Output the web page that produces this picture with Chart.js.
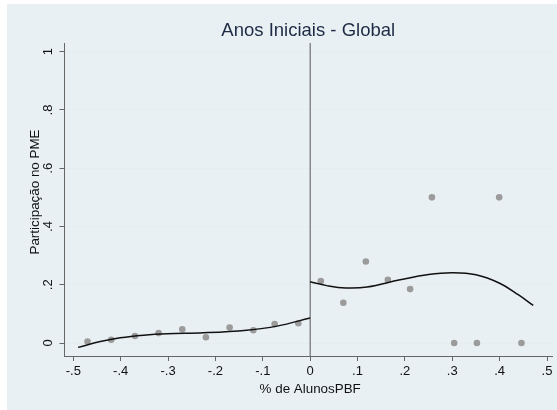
<!DOCTYPE html>
<html>
<head>
<meta charset="utf-8">
<script src="https://cdn.jsdelivr.net/npm/chart.js@4/dist/chart.umd.min.js"></script>
<style>
  html, body { margin: 0; padding: 0; background: #ffffff; }
  #wrap { position: absolute; left: 7px; top: 4px; width: 550px; height: 406px; background: #e9f0f3; }
  canvas { display: block; }
</style>
</head>
<body>
<div id="wrap"><canvas id="c" width="550" height="406"></canvas></div>
<script>
// Binned means of participation by share of PBF students
const binX = [-0.47, -0.42, -0.37, -0.32, -0.27, -0.22, -0.17, -0.12, -0.075, -0.025,
              0.0225, 0.07, 0.1175, 0.164, 0.211, 0.257, 0.304, 0.352, 0.399, 0.446];
const binY = [0.005, 0.011, 0.024, 0.034, 0.047, 0.020, 0.053, 0.044, 0.065, 0.068,
              0.213, 0.138, 0.280, 0.217, 0.185, 0.500, 0.000, 0.000, 0.500, 0.000];

// Polynomial fit, left of the cutoff
const fitLeftX = [-0.49, -0.443, -0.401, -0.352, -0.302, -0.225, -0.134, -0.07, 0];
const fitLeftY = [-0.015, 0.005, 0.018, 0.027, 0.032, 0.035, 0.044, 0.058, 0.086];

// Polynomial fit, right of the cutoff
const fitRightX = [0, 0.035, 0.075, 0.12, 0.19, 0.25, 0.30, 0.35, 0.40, 0.44, 0.471];
const fitRightY = [0.21, 0.197, 0.189, 0.192, 0.217, 0.235, 0.241, 0.234, 0.205, 0.165, 0.129];

const xTicks = [-0.5, -0.4, -0.3, -0.2, -0.1, 0, 0.1, 0.2, 0.3, 0.4, 0.5];
const xTickLabels = ['-.5', '-.4', '-.3', '-.2', '-.1', '0', '.1', '.2', '.3', '.4', '.5'];
const yTicks = [0, 0.2, 0.4, 0.6, 0.8, 1];
const yTickLabels = ['0', '.2', '.4', '.6', '.8', '1'];

const titleText = 'Anos Iniciais - Global';
const xTitle = '% de AlunosPBF';
const yTitle = 'Participação no PME';

const X_MIN = -0.5186, X_MAX = 0.5105;
const Y_MIN = -0.0446, Y_MAX = 1.03;
const FONT = '"Liberation Sans", Arial, Helvetica, sans-serif';

const pts = (xs, ys) => xs.map((x, i) => ({ x: x, y: ys[i] }));

const textPlugin = {
  id: 'stataText',
  afterDraw(chart) {
    const ctx = chart.ctx;
    const ys = chart.scales.y;
    const area = chart.chartArea;
    ctx.save();
    // title
    ctx.fillStyle = '#1d2a45';
    ctx.font = '18.5px ' + FONT;
    ctx.textAlign = 'center';
    ctx.textBaseline = 'middle';
    ctx.fillText(titleText, (area.left + area.right) / 2, 27);
    // x axis title
    ctx.fillStyle = '#111';
    ctx.font = '13.4px ' + FONT;
    ctx.fillText(xTitle, chart.scales.x.getPixelForValue(0), 385);
    // y tick labels, rotated
    ctx.font = '13px ' + FONT;
    yTicks.forEach((v, i) => {
      ctx.save();
      ctx.translate(41, ys.getPixelForValue(v));
      ctx.rotate(-Math.PI / 2);
      ctx.fillText(yTickLabels[i], 0, 0);
      ctx.restore();
    });
    // y axis title
    ctx.font = '13.4px ' + FONT;
    ctx.save();
    ctx.translate(28, 188);
    ctx.rotate(-Math.PI / 2);
    ctx.fillText(yTitle, 0, 0);
    ctx.restore();
    ctx.restore();
  }
};

new Chart(document.getElementById('c'), {
  type: 'scatter',
  data: {
    datasets: [
      {
        label: 'cutoff',
        type: 'line',
        data: [{ x: 0, y: Y_MIN }, { x: 0, y: Y_MAX }],
        borderColor: '#555',
        borderWidth: 1,
        pointRadius: 0,
        order: 3
      },
      {
        label: 'bins',
        data: pts(binX, binY),
        backgroundColor: '#9b9b9b',
        borderWidth: 0,
        pointRadius: 3.3,
        order: 2
      },
      {
        label: 'fitLeft',
        type: 'line',
        data: pts(fitLeftX, fitLeftY),
        borderColor: '#111',
        borderWidth: 1.5,
        pointRadius: 0,
        tension: 0.4,
        order: 1
      },
      {
        label: 'fitRight',
        type: 'line',
        data: pts(fitRightX, fitRightY),
        borderColor: '#111',
        borderWidth: 1.5,
        pointRadius: 0,
        tension: 0.4,
        order: 1
      }
    ]
  },
  options: {
    responsive: false,
    animation: false,
    layout: { padding: { top: 39, right: 5, left: 0, bottom: 0 } },
    plugins: { legend: { display: false }, tooltip: { enabled: false }, title: { display: false } },
    scales: {
      x: {
        type: 'linear',
        min: X_MIN, max: X_MAX,
        afterBuildTicks: s => { s.ticks = xTicks.map(v => ({ value: v })); },
        afterFit: s => { s.height = 54; },
        grid: { drawOnChartArea: false, drawTicks: true, tickLength: 5, tickColor: '#666', lineWidth: 1 },
        border: { display: true, color: '#666', width: 1 },
        ticks: {
          padding: 3,
          color: '#111',
          font: { family: FONT, size: 13 },
          maxRotation: 0, minRotation: 0,
          callback: (v) => { const i = xTicks.findIndex(t => Math.abs(t - v) < 1e-9); return i >= 0 ? xTickLabels[i] : ''; }
        }
      },
      y: {
        type: 'linear',
        min: Y_MIN, max: Y_MAX,
        afterBuildTicks: s => { s.ticks = yTicks.map(v => ({ value: v })); },
        afterFit: s => { s.width = 57.5; },
        grid: { color: '#e6edf1', lineWidth: 1, drawTicks: true, tickLength: 5, tickColor: '#666' },
        border: { display: true, color: '#666', width: 1 },
        ticks: { display: false }
      }
    }
  },
  plugins: [textPlugin]
});
</script>
</body>
</html>
